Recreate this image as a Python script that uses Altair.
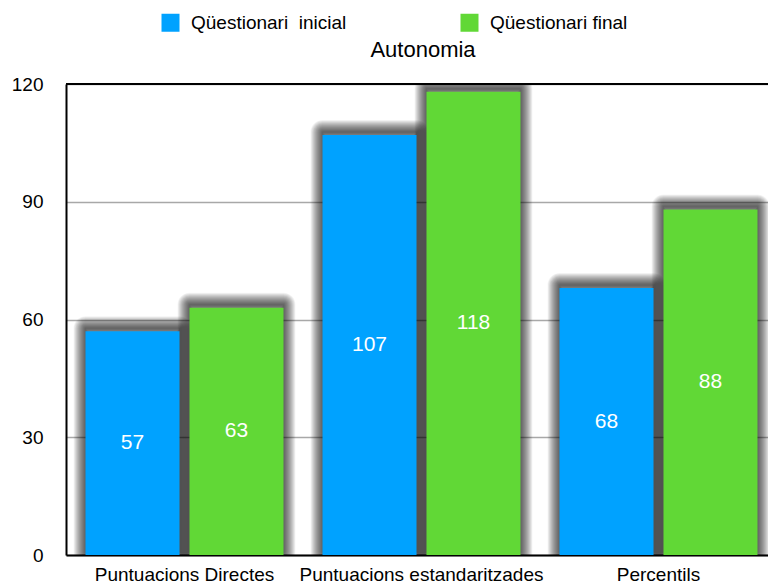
import altair as alt
import pandas as pd

# Scores per questionnaire (Autonomia)
categories = ["Puntuacions Directes", "Puntuacions estandaritzades", "Percentils"]
series_names = ["Qüestionari\u00a0 inicial", "Qüestionari final"]
inicial = [57, 107, 68]
final = [63, 118, 88]
y_ticks = [0, 30, 60, 90, 120]
colors = ["#00A2FF", "#61D836"]

rows = []
for cat, a, b in zip(categories, inicial, final):
    rows.append({"categoria": cat, "serie": series_names[0], "valor": a})
    rows.append({"categoria": cat, "serie": series_names[1], "valor": b})
df = pd.DataFrame(rows)

FONT = "Liberation Sans"

x_enc = alt.X(
    "categoria:N",
    sort=categories,
    scale=alt.Scale(range=[0, 711], paddingInner=0, paddingOuter=0),
    axis=alt.Axis(
        title=None,
        labelAngle=0,
        labelFontSize=19,
        labelColor="black",
        labelPadding=10,
        labelLimit=0,
        ticks=False,
        domainColor="black",
        domainWidth=2,
        grid=False,
    ),
)
xoff_enc = alt.XOffset(
    "serie:N",
    sort=series_names,
    scale=alt.Scale(paddingInner=0.096, paddingOuter=0.1875),
)
y_enc = alt.Y(
    "valor:Q",
    scale=alt.Scale(domain=[0, 120], nice=False),
    axis=alt.Axis(
        title=None,
        values=y_ticks,
        labelFontSize=19,
        labelColor="black",
        labelPadding=23,
        ticks=False,
        domainColor="black",
        domainWidth=2,
        gridColor="#a8a8a8",
        gridWidth=1.5,
    ),
)

base = alt.Chart(df).encode(x=x_enc, xOffset=xoff_enc)

# soft drop shadow: many faint outlines of growing width around each bar
shadow_layers = [
    base.mark_bar(
        fillOpacity=0,
        stroke="black",
        strokeOpacity=0.036,
        strokeWidth=w,
        strokeJoin="round",
        yOffset=-3,
        clip=True,
    ).encode(y=y_enc)
    for w in range(1, 25)
]

bars = base.mark_bar().encode(
    y=y_enc,
    color=alt.Color(
        "serie:N",
        sort=series_names,
        scale=alt.Scale(domain=series_names, range=colors),
        legend=alt.Legend(
            title=None,
            orient="none",
            legendX=95,
            legendY=-71,
            direction="horizontal",
            symbolType="square",
            symbolSize=324,
            symbolStrokeWidth=0,
            symbolOpacity=1,
            labelFontSize=19,
            labelColor="black",
            labelOffset=11,
            columnPadding=113,
            padding=0,
        ),
    ),
)

labels = base.mark_text(
    color="white", fontSize=21, baseline="middle", align="center"
).transform_calculate(mitad="datum.valor / 2").encode(
    y=alt.Y("mitad:Q", scale=alt.Scale(domain=[0, 120], nice=False)),
    text=alt.Text("valor:Q"),
)

top_rule = alt.Chart(df).mark_rule(color="black", strokeWidth=2).encode(
    y=alt.datum(120)
)

chart = (
    alt.layer(*shadow_layers, bars, labels, top_rule)
    .properties(
        width=702,
        height=471,
        autosize=alt.AutoSizeParams(type="none"),
        padding={"left": 66, "top": 84, "right": 0, "bottom": 31},
        title=alt.TitleParams(
            "Autonomia",
            fontSize=22,
            fontWeight="normal",
            color="black",
            anchor="middle",
            frame="group",
            dx=6,
            offset=-49,
        ),
    )
    .configure(font=FONT)
    .configure_view(stroke=None)
)

chart.save("out.html", embed_options={"renderer": "svg", "actions": False})
